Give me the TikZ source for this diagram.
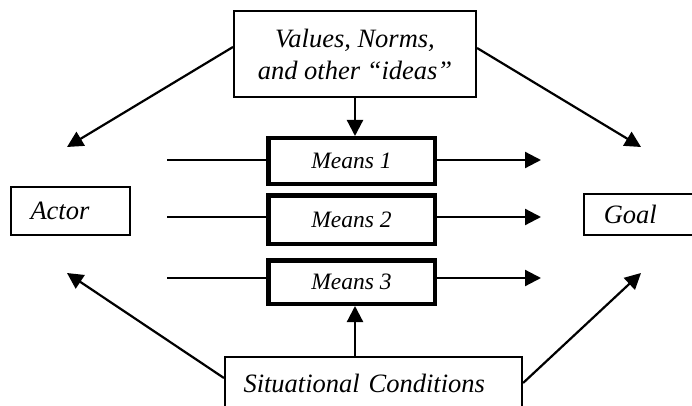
\documentclass[tikz,border=0pt]{standalone}
\usepackage{fontspec}
\setmainfont{Liberation Serif}
\usetikzlibrary{arrows.meta}

\begin{document}
\begin{tikzpicture}[x=1pt,y=-1pt,
  box/.style={draw, line width=1.6pt, inner sep=0pt, font=\itshape\fontsize{26.5}{32}\selectfont},
  meansbox/.style={draw, line width=4.5pt, inner sep=0pt, minimum width=166.5pt, font=\itshape\fontsize{23.5}{28}\selectfont},
  arr/.style={line width=2.2pt, -{Triangle[length=16pt,width=16pt]}},
  feed/.style={line width=2.2pt}]
\useasboundingbox (0,0) rectangle (692,406);
\clip (0,0) rectangle (692,406);

\node [box, minimum width=242.5pt, minimum height=86.5pt, align=center] (vals) at (355,54) {Values, Norms,\\and other ``ideas''};
\node [box, minimum height=48.5pt, text width=80pt, inner xsep=19.75pt, align=left] (actor) at (70.5,211) {Actor};
\node [box, minimum height=41.5pt, text width=80pt, inner xsep=19.75pt, align=left] (goal) at (643.75,214.5) {Goal};
\node [box, minimum height=52.5pt, text width=260pt, inner xsep=18.75pt, align=left] (sit) at (373.5,383) {Situational Conditions};

\node [meansbox, minimum height=45.5pt] (m1) at (351.5,161) {Means 1};
\node [meansbox, minimum height=48.5pt] (m2) at (351.5,219.5) {Means 2};
\node [meansbox, minimum height=43.5pt] (m3) at (351.5,282) {Means 3};

\foreach \i/\y in {1/160,2/217,3/278} {
  \coordinate (in\i) at (167,\y);
  \coordinate (out\i) at (541,\y);
  \draw [feed] (in\i) -- (in\i -| m\i.west);
  \draw [arr] (out\i -| m\i.east) -- (out\i);
}

\coordinate (actortop) at (67,147);
\coordinate (goaltop) at (641,147);
\coordinate (actorbot) at (67,273);
\coordinate (goalbot) at (641,273);

\draw [arr] ([yshift=7pt]vals.west) -- (actortop);
\draw [arr] ([yshift=6pt]vals.east) -- (goaltop);
\draw [arr] (vals.south) -- (vals.south |- m1.north);
\draw [arr] ([yshift=5pt]sit.west) -- (actorbot);
\draw [arr] (sit.east) -- (goalbot);
\draw [arr] ([xshift=3.5pt]m3.south |- sit.north) -- ([xshift=3.5pt]m3.south);
\end{tikzpicture}
\end{document}
